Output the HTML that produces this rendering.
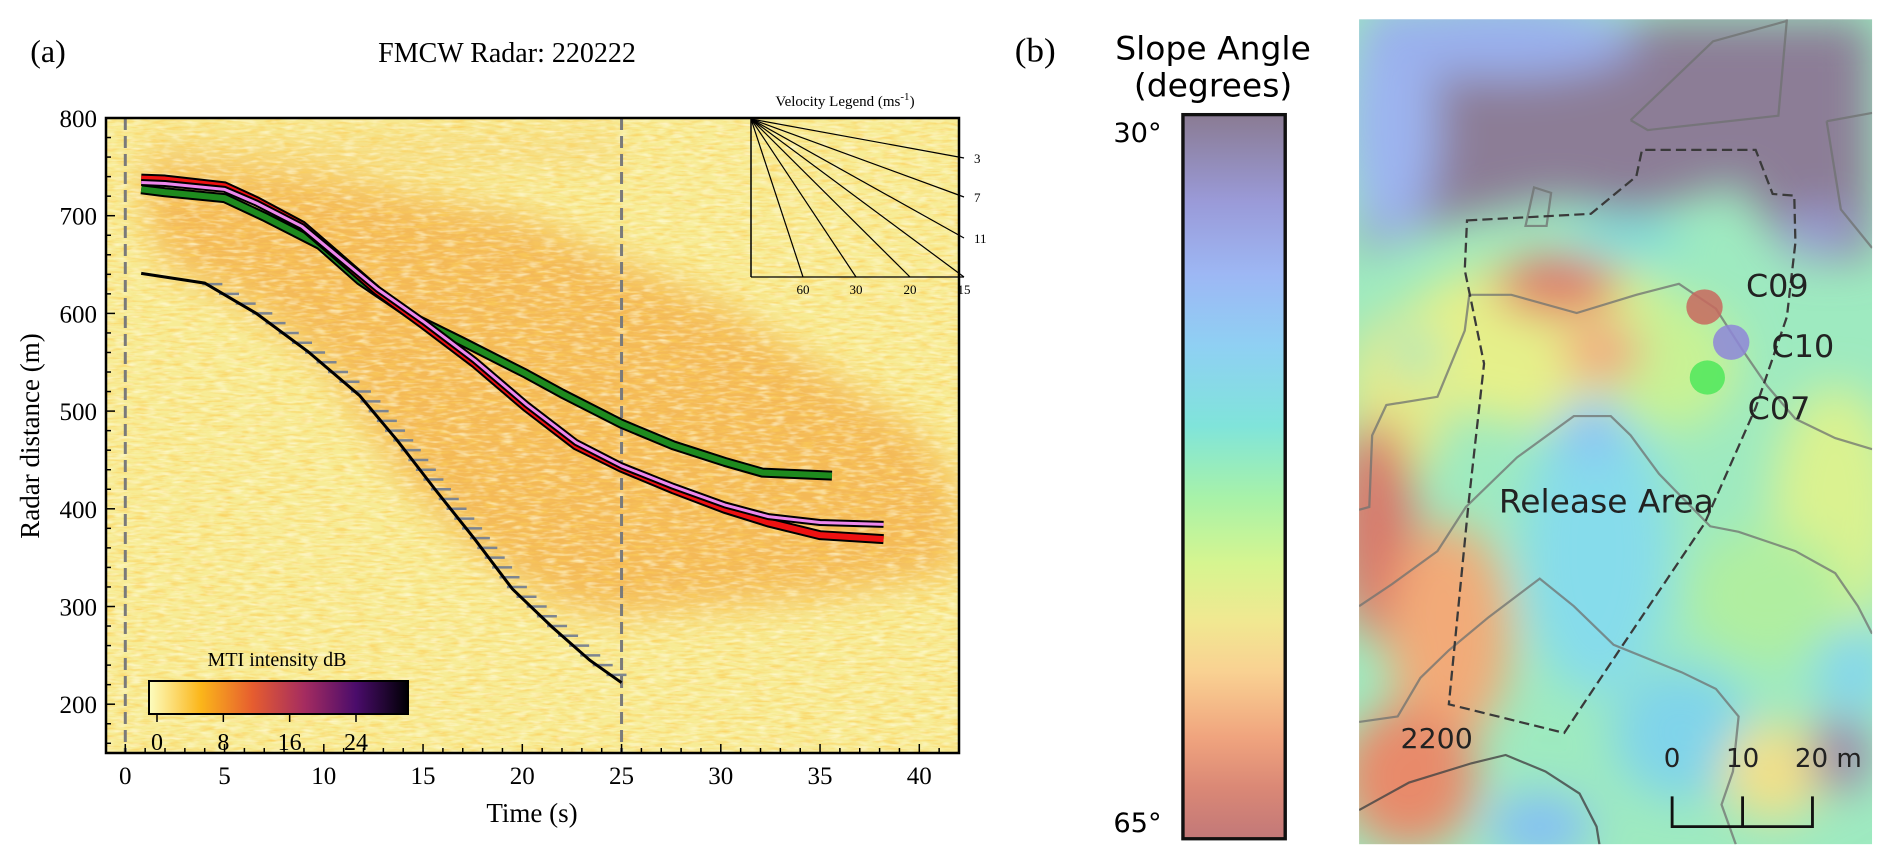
<!DOCTYPE html>
<html><head><meta charset="utf-8"><style>
body{margin:0;background:#fff;width:1892px;height:863px;overflow:hidden;position:relative;font-family:"Liberation Serif",serif}
svg{position:absolute;left:0;top:0}
</style></head><body>
<svg id="pa" width="1000" height="863" xmlns="http://www.w3.org/2000/svg">
<defs>
<filter id="bl" x="-20%" y="-20%" width="140%" height="140%"><feGaussianBlur stdDeviation="18"/></filter>
<filter id="nz"><feTurbulence type="fractalNoise" baseFrequency="0.06 0.35" numOctaves="2" seed="3"/><feColorMatrix type="matrix" values="0 0 0 0 0.97  0 0 0 0 0.62  0 0 0 0 0.1  0 0 0 2.2 -0.95"/></filter>
<filter id="nz2"><feTurbulence type="fractalNoise" baseFrequency="0.07 0.3" numOctaves="2" seed="9"/><feColorMatrix type="matrix" values="0 0 0 0 1  0 0 0 0 0.98  0 0 0 0 0.75  0 0 0 2.2 -1.0"/></filter>
<clipPath id="pc"><rect x="106" y="118" width="853" height="635"/></clipPath>
</defs>
<g clip-path="url(#pc)">
<rect x="106" y="118" width="853" height="635" fill="#f7ec96"/>
<g id="plume" filter="url(#bl)"></g>
<rect x="106" y="118" width="853" height="635" filter="url(#nz)" opacity="0.8"/>
<rect x="106" y="118" width="853" height="635" filter="url(#nz2)" opacity="0.7"/>
</g>
<g id="marks" clip-path="url(#pc)"></g>
<g id="axes"></g>
<text x="48" y="62" font-size="32" text-anchor="middle">(a)</text>
<text x="507" y="62" font-size="28" text-anchor="middle">FMCW Radar: 220222</text>
<text x="532" y="822" font-size="27" text-anchor="middle">Time (s)</text>
<text transform="translate(39,436) rotate(-90)" font-size="27" text-anchor="middle">Radar distance (m)</text>
</svg>

<svg width="892" height="863" style="left:1000px" viewBox="0 0 1570 1566" preserveAspectRatio="none" xmlns="http://www.w3.org/2000/svg" font-family="DejaVu Sans, sans-serif">
<defs>
<linearGradient id="cb" x1="0" y1="0" x2="0" y2="1">
<stop offset="0" stop-color="#8a7b93"/><stop offset="0.12" stop-color="#9a9ad8"/><stop offset="0.22" stop-color="#9db7f4"/><stop offset="0.32" stop-color="#8fd0f3"/><stop offset="0.43" stop-color="#80e4da"/><stop offset="0.53" stop-color="#a8f2a8"/><stop offset="0.62" stop-color="#d6f590"/><stop offset="0.70" stop-color="#f1e891"/><stop offset="0.77" stop-color="#f9d192"/><stop offset="0.86" stop-color="#f0a47e"/><stop offset="0.93" stop-color="#da8876"/><stop offset="1" stop-color="#c27878"/>
</linearGradient>
<filter id="mb" x="-30%" y="-30%" width="160%" height="160%"><feGaussianBlur stdDeviation="40"/></filter>
<clipPath id="mc"><rect x="632" y="35" width="903" height="1497"/></clipPath>
</defs>
<text x="62" y="112" font-size="62" font-family="Liberation Serif, serif" text-anchor="middle">(b)</text>
<text x="375" y="108" font-size="58" text-anchor="middle">Slope Angle</text>
<text x="375" y="175" font-size="58" text-anchor="middle">(degrees)</text>
<rect x="322" y="208" width="180" height="1314" fill="url(#cb)" stroke="#111" stroke-width="6"/>
<text x="242" y="258" font-size="48" text-anchor="middle">30°</text>
<text x="242" y="1510" font-size="48" text-anchor="middle">65°</text>
<g clip-path="url(#mc)">
<rect x="632" y="35" width="903" height="1497" fill="#9eeac0"/>
<g filter="url(#mb)">
<ellipse cx="700" cy="720" rx="90" ry="150" fill="#e4ea8a"/>
<ellipse cx="960" cy="620" rx="260" ry="150" fill="#e5f08a"/>
<ellipse cx="1180" cy="660" rx="120" ry="120" fill="#c8f294"/>
<ellipse cx="1470" cy="920" rx="110" ry="220" fill="#daf290"/>
<ellipse cx="1350" cy="1080" rx="140" ry="120" fill="#b0eea0"/>
<ellipse cx="1050" cy="1000" rx="130" ry="260" fill="#86dceb"/>
<ellipse cx="1040" cy="780" rx="60" ry="60" fill="#8cc4f4"/>
<ellipse cx="1200" cy="1330" rx="120" ry="120" fill="#80d4ea"/>
<ellipse cx="950" cy="1500" rx="90" ry="60" fill="#84c0f4"/>
<ellipse cx="1360" cy="1400" rx="90" ry="90" fill="#f0e08a"/>
<ellipse cx="1480" cy="1370" rx="50" ry="70" fill="#9a80a8"/>
<ellipse cx="1500" cy="1220" rx="60" ry="80" fill="#84d6ee"/>
<ellipse cx="660" cy="960" rx="70" ry="200" fill="#d8786a"/>
<ellipse cx="790" cy="1150" rx="110" ry="200" fill="#f2aa78"/>
<ellipse cx="720" cy="1410" rx="120" ry="130" fill="#e88a6a"/>
<ellipse cx="980" cy="520" rx="110" ry="55" fill="#e07a6a"/>
<ellipse cx="1060" cy="640" rx="70" ry="50" fill="#f2a080"/>
<ellipse cx="730" cy="640" rx="40" ry="40" fill="#9ee6c4"/>
<polygon points="632,35 1535,35 1535,470 1400,470 1300,330 1120,390 980,360 800,400 632,460" fill="#8c7d96"/>
<ellipse cx="690" cy="220" rx="80" ry="220" fill="#9cb4f0"/>
<ellipse cx="880" cy="70" rx="240" ry="70" fill="#9ab0ee"/>
<ellipse cx="1100" cy="430" rx="100" ry="40" fill="#80dcdc"/>
<ellipse cx="1440" cy="420" rx="60" ry="40" fill="#9aa0dc"/>
</g>
<g fill="none" stroke="#6f7270" stroke-width="4" opacity="0.75">
<polyline points="1110,218 1255,75 1385,38"/>
<polyline points="1110,218 1140,236 1370,210 1385,35"/>
<polyline points="1455,220 1535,205"/>
<polyline points="1455,220 1480,380 1535,450"/>
<polygon points="940,340 970,350 962,410 925,410"/>
<polyline points="826,535 900,535 1015,568 1120,535 1195,515 1260,560 1310,640 1350,700 1400,760 1470,795 1535,815"/>
<polyline points="826,535 818,600 770,720 680,735 655,790 650,920 632,925"/>
<polyline points="632,1100 690,1060 770,1000 820,920 910,830 1010,755 1075,755 1110,790 1160,860 1250,955 1300,965 1400,1000 1470,1040 1510,1100 1535,1150"/>
<polyline points="632,1310 700,1300 740,1230 790,1180 860,1120 950,1050 1010,1100 1080,1170 1200,1220 1260,1250 1300,1300 1290,1400 1270,1460 1295,1532"/>
</g>
<polyline points="632,1470 720,1420 830,1385 890,1370 960,1400 1020,1440 1050,1500 1055,1532" fill="none" stroke="#444" stroke-width="4" opacity="0.8"/>
<polygon points="822,400 1040,388 1120,320 1130,272 1330,272 1360,352 1398,355 1400,440 1385,575 1330,740 1240,950 1090,1180 993,1330 790,1278 825,910 852,660 818,490" fill="none" stroke="#3a3a3a" stroke-width="4" stroke-dasharray="18,9"/>
<circle cx="1240" cy="557" r="32" fill="#c8685e" opacity="0.85"/>
<circle cx="1287" cy="621" r="32" fill="#8e86d8" opacity="0.85"/>
<circle cx="1245" cy="685" r="31" fill="#4fe85a" opacity="0.85"/>
<g fill="#222" font-size="56">
<text x="1313" y="538">C09</text>
<text x="1358" y="648">C10</text>
<text x="1316" y="760">C07</text>
<text x="878" y="930" font-size="58">Release Area</text>
<text x="705" y="1357" font-size="50">2200</text>
<text x="1183" y="1392" font-size="46" text-anchor="middle">0</text>
<text x="1307" y="1392" font-size="46" text-anchor="middle">10</text>
<text x="1458" y="1392" font-size="46" text-anchor="middle">20 m</text>
</g>
<path d="M1183,1445 V1500 H1430 V1445 M1307,1445 V1500" fill="none" stroke="#111" stroke-width="5"/>
</g>
</svg>

<script>
const redT=[0.8,2,5,6.6,8.9,10.5,12.7,15,17.6,20.2,22.7,25,27.6,30.2,32.4,35,38.2];
const redD=[738,737,730,715,690,662,623,589,549,504,465,442,420,400,386,373,369];
const pinkT=[0.8,2,5,6.6,8.9,10.5,12.7,15,17.6,20.2,22.7,25,27.6,30.2,32.4,35,38.2];
const pinkD=[734,733,727,713,689,662,625,592,552,507,468,444,423,404,392,386,384];
const greenT=[0.8,2,5,7,9.8,11.8,14.7,16.9,20.2,22,25,27.6,30.2,32.1,35.6];
const greenD=[727,724,718,699,670,634,594,572,538,518,487,465,448,437,434];
const trackT=[0.8,4,6.6,9.2,11.8,13.7,15.6,17.6,19.5,21.5,23.4,25];
const trackD=[641,631,600,561,516,470,420,369,318,279,245,222];
const plumeT=[1,10,20,30,40,42,42,35,25,22,18,14,10,6,2,1];
const plumeD=[755,742,700,610,480,420,335,310,290,300,350,430,550,610,650,700];
const vlegLabelsR=['3','7','11'];
const vlegLabelsB=['60','30','20','15'];
const xTicks=[0,5,10,15,20,25,30,35,40];
const yTicks=[200,300,400,500,600,700,800];
const cbTicks=[0,8,16,24];
const vlines=[0,25];

const NS='http://www.w3.org/2000/svg';
const X=t=>125.3+19.85*t, Y=d=>118+(800-d)*0.977;
function mk(tag,attrs,parent){const e=document.createElementNS(NS,tag);for(const k in attrs)e.setAttribute(k,attrs[k]);parent.appendChild(e);return e;}
const marks=document.getElementById('marks'),axes=document.getElementById('axes'),plume=document.getElementById('plume');

let p=mk('polygon',{points:plumeT.map((t,i)=>X(t)+','+Y(plumeD[i])).join(' '),fill:'#f2a43c',opacity:'0.7'},plume);


let band=mk('rect',{x:X(1),y:Y(775),width:X(25)-X(1),height:14,fill:'#f2b050',opacity:'0.6'},plume);



vlines.forEach(v=>{const l=mk('line',{x1:X(v),x2:X(v),y1:118,y2:753,stroke:'#7a7a7a','stroke-width':3,'stroke-dasharray':'12,6'},marks);

});

function curve(T,D,color,name,w){
  const pts=T.map((t,i)=>X(t)+','+Y(D[i])).join(' ');
  mk('polyline',{points:pts,fill:'none',stroke:'#000','stroke-width':w+4,'stroke-linejoin':'round'},marks);
  const c=mk('polyline',{points:pts,fill:'none',stroke:color,'stroke-width':w,'stroke-linejoin':'round'},marks);
  
  
}
curve(greenT,greenD,'#1e8a1e','front-c07-green',6);
curve(redT,redD,'#ee1111','front-c09-red',6);
curve(pinkT,pinkD,'#ee88ee','front-c10-pink',3);
for(let d=630;d>=220;d-=10){
  let t=null;
  for(let i=0;i<trackD.length-1;i++){if(d<=trackD[i]&&d>=trackD[i+1]){t=trackT[i]+(trackT[i+1]-trackT[i])*(trackD[i]-d)/(trackD[i]-trackD[i+1]);break;}}
  if(t===null)continue;
  const tk=mk('line',{x1:X(t)-4,x2:X(t)+16,y1:Y(d),y2:Y(d),stroke:'#7d8590','stroke-width':2.5},marks);
  
  
}
const tr=mk('polyline',{points:trackT.map((t,i)=>X(t)+','+Y(trackD[i])).join(' '),fill:'none',stroke:'#000','stroke-width':3},marks);



const ox=751,oy=119,rx=964,by=277;
const vl=mk('g',{},axes);


mk('path',{d:`M${ox},${oy} V${by}`,stroke:'#000','stroke-width':1.5,fill:'none'},vl);
[158,197,238].forEach((yy,i)=>{mk('line',{x1:ox,y1:oy,x2:rx,y2:yy,stroke:'#000','stroke-width':1.2},vl);
 const t=mk('text',{x:rx+10,y:yy+5,'font-size':13},vl);t.textContent=vlegLabelsR[i];});
[803,856,910,964].forEach((xx,i)=>{mk('line',{x1:ox,y1:oy,x2:xx,y2:by,stroke:'#000','stroke-width':1.2},vl);
 const t=mk('text',{x:xx,y:by+17,'font-size':13,'text-anchor':'middle'},vl);t.textContent=vlegLabelsB[i];});
mk('line',{x1:ox,y1:by,x2:rx,y2:by,stroke:'#000','stroke-width':1.2},vl);
const vt=mk('text',{x:845,y:106,'font-size':15,'text-anchor':'middle'},vl);
vt.innerHTML='Velocity Legend (ms<tspan dy="-6" font-size="11">-1</tspan><tspan dy="6">)</tspan>';

const fr=mk('rect',{x:106,y:118,width:853,height:635,fill:'none',stroke:'#000','stroke-width':2.5},axes);


for(let t=0;t<=42;t++){const maj=t%5===0;mk('line',{x1:X(t),x2:X(t),y1:753,y2:753-(maj?9:5),stroke:'#000','stroke-width':1.5},axes);}
for(let d=160;d<=800;d+=20){const maj=d%100===0;mk('line',{x1:106,x2:106+(maj?9:5),y1:Y(d),y2:Y(d),stroke:'#000','stroke-width':1.5},axes);}
xTicks.forEach(t=>{const e=mk('text',{x:X(t),y:784,'font-size':25,'text-anchor':'middle'},axes);e.textContent=t;
 
 });
yTicks.forEach(d=>{const e=mk('text',{x:97,y:Y(d)+9,'font-size':25,'text-anchor':'end'},axes);e.textContent=d;
 
 });

const defs=document.querySelector('#pa defs');
const lg=mk('linearGradient',{id:'mti',x1:0,x2:1,y1:0,y2:0},defs);
[['0','#fcfdbf'],['0.2','#fbb61a'],['0.4','#e65d2f'],['0.6','#a52c60'],['0.8','#4a0c6b'],['1','#000004']].forEach(s=>mk('stop',{offset:s[0],'stop-color':s[1]},lg));
const cb=mk('rect',{x:149,y:681,width:259,height:33,fill:'url(#mti)',stroke:'#000','stroke-width':2},axes);


const cbt=mk('text',{x:277,y:666,'font-size':20,'text-anchor':'middle'},axes);cbt.textContent='MTI intensity dB';


cbTicks.forEach(v=>{const xx=157+v*(356-157)/24;mk('line',{x1:xx,x2:xx,y1:714,y2:722,stroke:'#000','stroke-width':1.5},axes);
 const e=mk('text',{x:xx,y:750,'font-size':24,'text-anchor':'middle'},axes);e.textContent=v;
 
 });
</script>
</body></html>
